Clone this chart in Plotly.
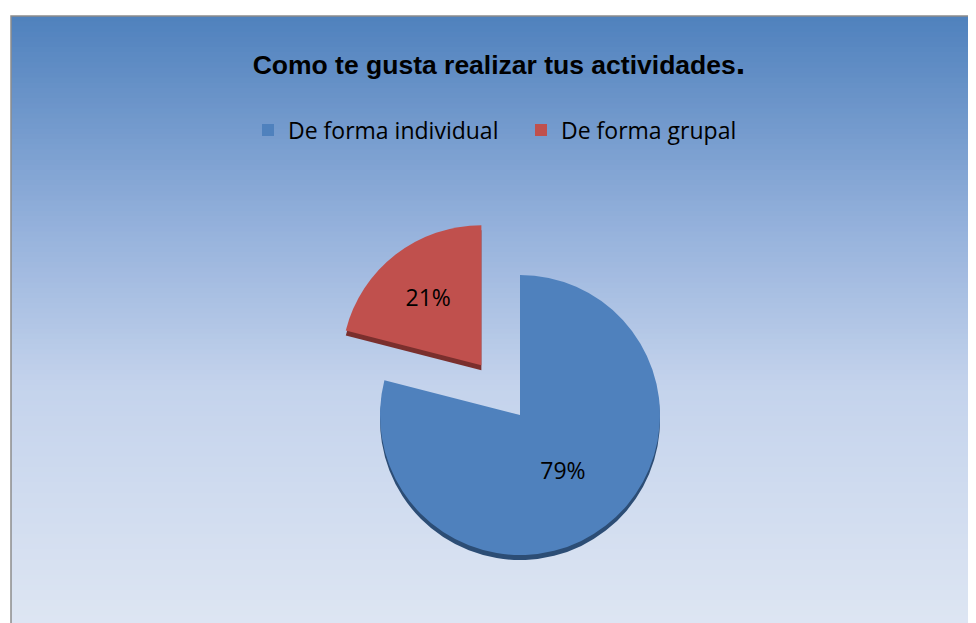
import plotly.graph_objects as go

labels = ["De forma individual", "De forma grupal"]
values = [79, 21]
colors = ["#4F81BD", "#C0504D"]
shadow_colors = ["#2C4D75", "#7A2F2D"]
pulls = [0, 0.45]

# background gradient stops (position from top, rgb)
grad_stops = [(0.0, (79, 129, 189)), (0.35, (150, 178, 220)),
              (0.6, (196, 211, 236)), (1.0, (222, 230, 243))]

W, H = 976, 623


def grad_color(t):
    for (p0, c0), (p1, c1) in zip(grad_stops[:-1], grad_stops[1:]):
        if p0 <= t <= p1:
            f = (t - p0) / (p1 - p0)
            return "rgb(%d,%d,%d)" % tuple(round(a + (b - a) * f) for a, b in zip(c0, c1))
    return "rgb(%d,%d,%d)" % grad_stops[-1][1]


x_left = 3 / W
y_top = 1 - 8 / H
n = 120
shapes = []
for i in range(n):
    t = (i + 0.5) / n
    shapes.append(dict(type="rect", xref="paper", yref="paper", layer="below",
                       x0=x_left, x1=1.01, y0=y_top - (i + 1) * y_top / n - 0.002,
                       y1=y_top - i * y_top / n, line_width=0,
                       fillcolor=grad_color(t)))
shapes.append(dict(type="path", xref="paper", yref="paper", layer="below",
                   path="M %f,0 L %f,%f L 1.01,%f" % (x_left, x_left, y_top, y_top),
                   line=dict(color="#8C8C8C", width=1.5)))

# pie placement (pixels -> paper)
cx, cy, size = 512, 407, 406
dom_x = [(cx - size / 2) / W, (cx + size / 2) / W]
dom_y = [1 - (cy + size / 2) / H, 1 - (cy - size / 2) / H]
off = 5 / H

fig = go.Figure()
# depth shadow
fig.add_trace(go.Pie(labels=labels, values=values, sort=False, direction="clockwise",
                     rotation=0, pull=pulls, marker=dict(colors=shadow_colors),
                     textinfo="none", hoverinfo="skip", showlegend=False,
                     domain=dict(x=dom_x, y=[max(0, dom_y[0] - off), dom_y[1] - off])))
fig.add_trace(go.Pie(labels=labels, values=values, sort=False, direction="clockwise",
                     rotation=0, pull=pulls, marker=dict(colors=colors),
                     textinfo="percent", textposition="inside",
                     insidetextorientation="horizontal",
                     textfont=dict(family="Open Sans", size=23, color="black"),
                     domain=dict(x=dom_x, y=dom_y)))

fig.update_layout(
    width=W, height=H,
    margin=dict(l=0, r=0, t=0, b=0),
    paper_bgcolor="white",
    shapes=shapes,
    title=dict(text="<b>Como te gusta realizar tus actividades</b><b style='font-size:34px'>.</b>",
               x=0.503, xanchor="center", y=1 - 57 / H, yanchor="middle",
               font=dict(family="Liberation Sans", size=26.5, color="black")),
    legend=dict(orientation="h", x=240 / W, xanchor="left", y=1 - 122 / H, yanchor="middle",
                font=dict(family="Open Sans", size=23, color="black"),
                bgcolor="rgba(0,0,0,0)", itemsizing="constant", itemwidth=30,
                entrywidth=228, entrywidthmode="pixels"),
)

fig.write_html("out.html")
